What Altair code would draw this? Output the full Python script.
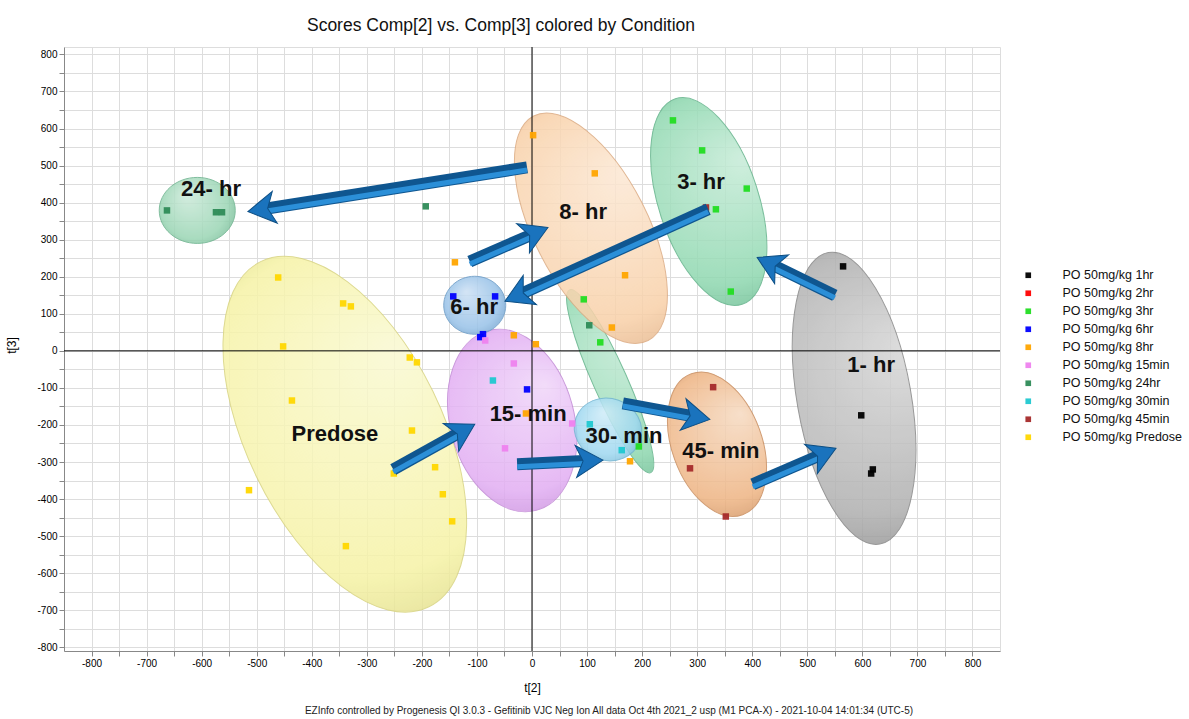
import math
import altair as alt
import pandas as pd

# ---------------- score data: t[2] (x) and t[3] (y) per condition ----------------
conditions = [
    "PO 50mg/kg 1hr", "PO 50mg/kg 2hr", "PO 50mg/kg 3hr", "PO 50mg/kg 6hr",
    "PO 50mg/kg 8hr", "PO 50mg/kg 15min", "PO 50mg/kg 24hr", "PO 50mg/kg 30min",
    "PO 50mg/kg 45min", "PO 50mg/kg Predose",
]
condition_colors = [
    "#000000", "#ff0000", "#22dd22", "#0000ff", "#ffa500",
    "#ee82ee", "#2e8b57", "#20c8d0", "#a52a2a", "#ffd700",
]

t2_1hr = [565, 598, 619, 616]
t3_1hr = [228, -174, -320, -331]

t2_3hr = [256, 309, 390, 334, 361, 94, 124, 194]
t3_3hr = [622, 541, 438, 382, 160, 139, 23, -258]

t2_6hr = [-143, -67, -89, -94, -9]
t3_6hr = [147, 147, 45, 37, -104]

t2_8hr = [2, 114, -140, 169, 145, 7, -33, -11, 178]
t3_8hr = [582, 479, 239, 204, 63, 18, 42, -169, -298]

t2_15min = [-85, -33, -49, 73]
t3_15min = [28, -34, -263, -196]

t2_24hr = [-663, -574, -563, -193, 104]
t3_24hr = [379, 374, 374, 390, 69]

t2_30min = [-71, 105, 163]
t3_30min = [-80, -198, -268]

t2_45min = [316, 329, 287, 352]
t3_45min = [387, -98, -317, -447]

t2_predose = [-461, -343, -329, -452, -222, -209, -436, -218, -251, -176, -514, -162, -145, -338]
t3_predose = [198, 128, 120, 12, -18, -31, -134, -215, -331, -314, -376, -387, -460, -527]

series = [
    ("PO 50mg/kg 1hr", t2_1hr, t3_1hr),
    ("PO 50mg/kg 3hr", t2_3hr, t3_3hr),
    ("PO 50mg/kg 6hr", t2_6hr, t3_6hr),
    ("PO 50mg/kg 8hr", t2_8hr, t3_8hr),
    ("PO 50mg/kg 15min", t2_15min, t3_15min),
    ("PO 50mg/kg 24hr", t2_24hr, t3_24hr),
    ("PO 50mg/kg 30min", t2_30min, t3_30min),
    ("PO 50mg/kg 45min", t2_45min, t3_45min),
    ("PO 50mg/kg Predose", t2_predose, t3_predose),
]
rows = []
for cond, xs, ys in series:
    for a, b in zip(xs, ys):
        rows.append({"Condition": cond, "t2": a, "t3": b})
points = pd.DataFrame(rows)

# ---------------- group annotations ----------------
group_labels = ["24- hr", "8- hr", "3- hr", "6- hr", "1- hr", "Predose", "15- min", "30- min", "45- min"]
label_t2 = [-583, 93, 307, -105, 616, -358, -7, 167, 343]
label_t3 = [436, 376, 455, 117, -39, -225, -171, -231, -271]

# time-course arrows: tail (t2, t3) -> head (t2, t3)
arrow_t2_from = [-9, -113, 320, 550, -252, -27, 165, 401]
arrow_t3_from = [495, 241, 382, 150, -320, -306, -142, -360]
arrow_t2_to = [-516, 29, -49, 409, -104, 129, 323, 552]
arrow_t3_to = [376, 333, 134, 252, -198, -295, -185, -263]

# ---------------- layout ----------------
W, H = 936, 604
X_DOMAIN = [-850, 850]
Y_DOMAIN = [-810, 820]
kx = W / (X_DOMAIN[1] - X_DOMAIN[0])
ky = H / (Y_DOMAIN[1] - Y_DOMAIN[0])

FONT = "Liberation Sans, Arial, Helvetica, sans-serif"
tick_values = list(range(-800, 801, 50))
label_expr = "datum.value % 100 === 0 ? '' + datum.value : ''"

x_scale = alt.Scale(domain=X_DOMAIN, nice=False, zero=False)
y_scale = alt.Scale(domain=Y_DOMAIN, nice=False, zero=False)
x_axis = alt.Axis(values=tick_values, labelExpr=label_expr, title="t[2]", grid=True,
                  titlePadding=14, titleFontWeight="normal", titleFontSize=12)
y_axis = alt.Axis(values=tick_values, labelExpr=label_expr, title="t[3]", grid=True,
                  titleX=-46, titleY=H / 2 - 4, titleAngle=-90,
                  titleFontWeight="normal", titleFontSize=12)


def xy():
    return dict(
        x=alt.X("t2:Q", scale=x_scale, axis=x_axis),
        y=alt.Y("t3:Q", scale=y_scale, axis=y_axis),
    )


def mix(c1, c2, t):
    a = [int(c1[i:i + 2], 16) for i in (1, 3, 5)]
    b = [int(c2[i:i + 2], 16) for i in (1, 3, 5)]
    return "#%02x%02x%02x" % tuple(round(p + (q - p) * t) for p, q in zip(a, b))


# ellipse outlines around each group: centre (t2, t3), semi-axes in px, tilt in degrees
ellipses = [
    (-340, -225, 192, 98, 64, "#f6f3a6", "#d8d480"),   # Predose
    (142, -82, 100, 17, 66, "#8fd8b0", "#62b38a"),     # 3 hr (lower arm)
    (107, 331, 126, 57, 63, "#f9d1a9", "#dcaa80"),     # 8 hr
    (321, 403, 108, 50, 72, "#8fd8b0", "#62b38a"),     # 3 hr
    (-608, 379, 38, 33, 0, "#9bd6b5", "#6cb38e"),      # 24 hr
    (-36, -188, 93, 62, 75, "#e2aef3", "#c289d6"),     # 15 min
    (-104, 123, 31, 29, 0, "#98c2e8", "#6a9bc7"),      # 6 hr
    (138, -212, 34, 31, 20, "#9fd8f0", "#73b5d2"),     # 30 min
    (336, -252, 75, 45, 70, "#eeb483", "#c98c5c"),     # 45 min
    (585, -128, 148, 57, 80, "#b0b0b0", "#878787"),    # 1 hr
]

layers = []

for cx, cy, a, b, tilt, base, edge in ellipses:
    r = b / a
    path = f"M -1 0 A 1 {r:.4f} 0 1 0 1 0 A 1 {r:.4f} 0 1 0 -1 0 Z"
    fill = {
        "gradient": "radial",
        "x1": 0.36, "y1": 0.28, "r1": 0.0,
        "x2": 0.5, "y2": 0.5, "r2": 0.62,
        "stops": [
            {"offset": 0.0, "color": mix(base, "#ffffff", 0.5)},
            {"offset": 0.7, "color": base},
            {"offset": 1.0, "color": edge},
        ],
    }
    layers.append(
        alt.Chart(pd.DataFrame({"t2": [cx], "t3": [cy]})).mark_point(
            shape=path, filled=True, size=4 * a * a, angle=tilt,
            fill=fill, stroke=edge, strokeWidth=1, opacity=0.85,
        ).encode(**xy())
    )

# axes through the origin
layers.append(
    alt.Chart(pd.DataFrame({"t2": [0], "t3": [0]})).mark_rule(color="#000000", strokeWidth=1)
    .encode(y=alt.Y("t3:Q", scale=y_scale, axis=y_axis))
)
layers.append(
    alt.Chart(pd.DataFrame({"t2": [0], "t3": [0]})).mark_rule(color="#000000", strokeWidth=1)
    .encode(x=alt.X("t2:Q", scale=x_scale, axis=x_axis))
)

# points
layers.append(
    alt.Chart(points).mark_square(size=42, opacity=0.95).encode(
        **xy(),
        color=alt.Color(
            "Condition:N",
            scale=alt.Scale(domain=conditions, range=condition_colors),
            legend=alt.Legend(
                title=None, orient="none", legendX=958, legendY=222,
                symbolType="square", symbolSize=32, symbolStrokeWidth=0,
                labelFont=FONT, labelFontSize=12.5, labelColor="#111111",
                labelOffset=28, rowPadding=5,
            ),
        ),
    )
)

# arrows
HEAD_UNIT = 16
head_path = "M 0 0 L -1.7 -1 L -1.25 0 L -1.7 1 Z"
arrow_rows = []
for x0, y0, x1, y1 in zip(arrow_t2_from, arrow_t3_from, arrow_t2_to, arrow_t3_to):
    dxp = (x1 - x0) * kx
    dyp = -(y1 - y0) * ky
    ang = math.atan2(dyp, dxp)
    back = 1.2 * HEAD_UNIT
    arrow_rows.append({
        "t2": x0, "t3": y0,
        "t2e": x1 - back * math.cos(ang) / kx,
        "t3e": y1 + back * math.sin(ang) / ky,
        "hx": x1, "hy": y1,
        "angle": math.degrees(ang) % 360,
    })
arrows = pd.DataFrame(arrow_rows)

layers.append(
    alt.Chart(arrows).mark_rule(color="#0f5690", strokeWidth=12, strokeCap="butt").encode(
        **xy(), x2="t2e:Q", y2="t3e:Q")
)
layers.append(
    alt.Chart(arrows).mark_rule(color="#2b8fd8", strokeWidth=5, strokeCap="butt",
                                yOffset=2.5, y2Offset=2.5).encode(
        **xy(), x2="t2e:Q", y2="t3e:Q")
)
layers.append(
    alt.Chart(arrows).mark_point(
        shape=head_path, filled=True, size=(2 * HEAD_UNIT) ** 2,
        fill="#1a73bd", stroke="#0d4f85", strokeWidth=1, opacity=1,
    ).encode(
        x=alt.X("hx:Q", scale=x_scale, axis=x_axis),
        y=alt.Y("hy:Q", scale=y_scale, axis=y_axis),
        angle=alt.Angle("angle:Q", scale=None),
    )
)

# group labels
labels = pd.DataFrame({"t2": label_t2, "t3": label_t3, "text": group_labels})
layers.append(
    alt.Chart(labels).mark_text(font=FONT, fontSize=22, fontWeight="bold", color="#111111")
    .encode(**xy(), text="text:N")
)

# footer line
footer = pd.DataFrame({"text": [
    "EZInfo controlled by Progenesis QI 3.0.3 - Gefitinib VJC Neg Ion All data Oct 4th 2021_2 usp "
    "(M1 PCA-X) - 2021-10-04 14:01:34 (UTC-5)"
]})
layers.append(
    alt.Chart(footer).mark_text(font=FONT, fontSize=10, color="#222222")
    .encode(x=alt.value(545), y=alt.value(664), text="text:N")
)

chart = alt.layer(*layers).properties(
    width=W, height=H,
    autosize=alt.AutoSizeParams(type="none"),
    padding={"left": 64, "top": 47, "right": 189, "bottom": 68},
    title=alt.TitleParams(
        "Scores Comp[2] vs. Comp[3] colored by Condition",
        font=FONT, fontSize=17.5, fontWeight="normal", color="#111111",
        anchor="middle", dx=-31, offset=12,
    ),
).configure_view(stroke=None).configure_axis(
    domainColor="#000000", tickColor="#000000", tickSize=5,
    gridColor="#e3e3e3", gridWidth=1,
    labelFont=FONT, labelFontSize=12, labelColor="#222222",
    titleFont=FONT, titleColor="#222222",
).configure(background="#ffffff")

chart.save("out.html", embed_options={"renderer": "svg", "actions": False})
